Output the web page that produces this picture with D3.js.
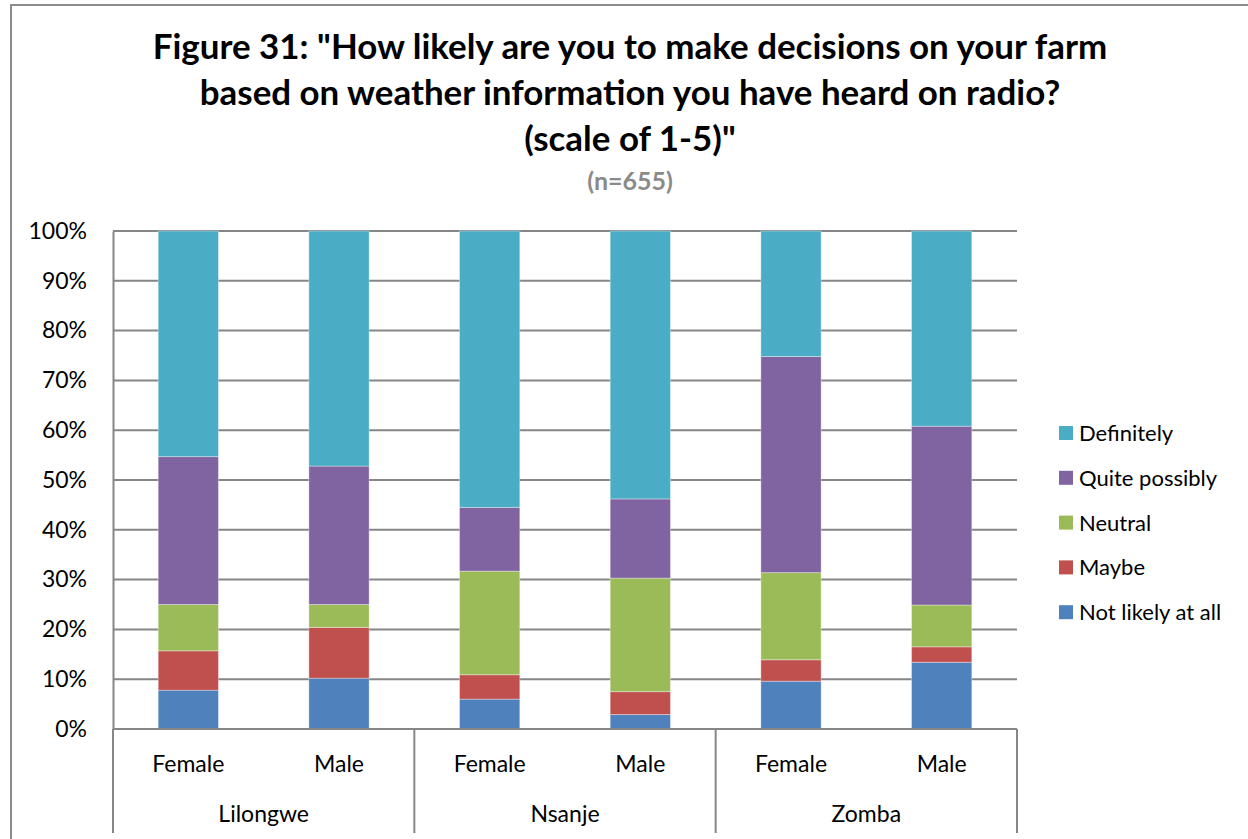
<!DOCTYPE html>
<html>
<head>
<meta charset="utf-8">
<script src="https://cdn.jsdelivr.net/npm/d3@7"></script>
<style>
  html, body { margin: 0; padding: 0; background: #fff; }
  svg { display: block; }
  text { font-family: Lato, "Open Sans", sans-serif; }
</style>
</head>
<body>
<svg id="chart" width="1248" height="839"></svg>
<script>
// Survey response shares (%) by district and gender
const districts = ["Lilongwe", "Nsanje", "Zomba"];
const genders = ["Female", "Male"];
const responses = ["Not likely at all", "Maybe", "Neutral", "Quite possibly", "Definitely"];
const colors = ["#4F81BD", "#C0504D", "#9BBB59", "#8064A2", "#4BACC6"];

// One array per response level, in order Lilongwe F/M, Nsanje F/M, Zomba F/M
const notLikely     = [7.8, 10.2, 6.0, 2.9, 9.6, 13.4];
const maybe         = [7.9, 10.2, 4.9, 4.6, 4.3, 3.1];
const neutral       = [9.3, 4.6, 20.8, 22.8, 17.5, 8.4];
const quitePossibly = [29.7, 27.8, 12.8, 15.9, 43.4, 35.9];
const definitely    = [45.3, 47.2, 55.5, 53.8, 25.2, 39.2];

const yTicks = [0, 0.1, 0.2, 0.3, 0.4, 0.5, 0.6, 0.7, 0.8, 0.9, 1.0];

const titleLines = [
  "Figure 31: \"How likely are you to make decisions on your farm",
  "based on weather information you have heard on radio?",
  "(scale of 1-5)\""
];
const subtitle = "(n=655)";

// Build rows for stacking
const seriesValues = [notLikely, maybe, neutral, quitePossibly, definitely];
const rows = [];
districts.forEach((d, di) => {
  genders.forEach((g, gi) => {
    const i = di * genders.length + gi;
    const row = { district: d, gender: g };
    responses.forEach((r, ri) => { row[r] = seriesValues[ri][i] / 100; });
    rows.push(row);
  });
});

const svg = d3.select("#chart");
const gridColor = "#868686";
const labelSize = 23;

// Outer chart border
svg.append("path")
  .attr("d", "M11,839 L11,5 L1248,5")
  .attr("fill", "none")
  .attr("stroke", "#8c8c8c")
  .attr("stroke-width", 2);

const plot = { left: 113, right: 1017, top: 231, bottom: 729 };

const y = d3.scaleLinear().domain([0, 1]).range([plot.bottom, plot.top]);
const xOuter = d3.scaleBand().domain(districts).range([plot.left, plot.right]).padding(0);
const xInner = d3.scaleBand().domain(genders).range([0, xOuter.bandwidth()])
  .paddingInner(0.6).paddingOuter(0.3);

const color = d3.scaleOrdinal().domain(responses).range(colors);

// Gridlines
svg.append("g")
  .selectAll("line")
  .data(yTicks)
  .join("line")
  .attr("x1", plot.left)
  .attr("x2", plot.right)
  .attr("y1", d => y(d))
  .attr("y2", d => y(d))
  .attr("stroke", gridColor)
  .attr("stroke-width", 2);

// Y axis
const yAxis = svg.append("g")
  .attr("transform", `translate(${plot.left},0)`)
  .call(d3.axisLeft(y).tickValues(yTicks).tickFormat(d3.format(".0%")).tickSize(0).tickPadding(26));
yAxis.select(".domain").attr("stroke", gridColor).attr("stroke-width", 2);
yAxis.selectAll("text")
  .attr("font-size", labelSize)
  .attr("fill", "#000")
  .attr("font-family", "Lato, sans-serif");

// Stacked bars
const stack = d3.stack().keys(responses);
const stacked = stack(rows);

svg.append("g")
  .selectAll("g")
  .data(stacked)
  .join("g")
  .attr("fill", d => color(d.key))
  .selectAll("rect")
  .data(d => d)
  .join("rect")
  .attr("x", d => xOuter(d.data.district) + xInner(d.data.gender))
  .attr("width", xInner.bandwidth())
  .attr("y", d => y(d[1]))
  .attr("height", d => y(d[0]) - y(d[1]))
  .attr("stroke", "rgba(255,255,255,0.35)")
  .attr("stroke-width", 1);

// Baseline axis
svg.append("line")
  .attr("x1", plot.left).attr("x2", plot.right)
  .attr("y1", y(0)).attr("y2", y(0))
  .attr("stroke", gridColor).attr("stroke-width", 2);

// Group separators below the axis
const sepX = districts.map(d => xOuter(d)).concat([xOuter(districts[districts.length - 1]) + xOuter.bandwidth()]);
svg.append("g")
  .selectAll("line")
  .data(sepX)
  .join("line")
  .attr("x1", d => d).attr("x2", d => d)
  .attr("y1", y(0)).attr("y2", 833)
  .attr("stroke", gridColor).attr("stroke-width", 2);

// Gender labels
svg.append("g")
  .selectAll("text")
  .data(rows)
  .join("text")
  .attr("x", d => xOuter(d.district) + xInner(d.gender) + xInner.bandwidth() / 2)
  .attr("y", 772)
  .attr("text-anchor", "middle")
  .attr("font-size", labelSize)
  .text(d => d.gender);

// District labels
svg.append("g")
  .selectAll("text")
  .data(districts)
  .join("text")
  .attr("x", d => xOuter(d) + xOuter.bandwidth() / 2)
  .attr("y", 822)
  .attr("text-anchor", "middle")
  .attr("font-size", labelSize)
  .text(d => d);

// Title, sized so the first line spans its intended width
const titleG = svg.append("g");
const titleX = 630;
const baselines = [59, 105, 151];
const probe = titleG.append("text")
  .attr("font-weight", "bold").attr("font-size", 30).text(titleLines[0]);
const w30 = probe.node().getComputedTextLength();
probe.remove();
const titleSize = 30 * 955 / w30;
titleG.selectAll("text")
  .data(titleLines)
  .join("text")
  .attr("x", titleX)
  .attr("y", (d, i) => baselines[i])
  .attr("text-anchor", "middle")
  .attr("font-weight", "bold")
  .attr("font-size", titleSize)
  .text(d => d);

svg.append("text")
  .attr("x", titleX)
  .attr("y", 190)
  .attr("text-anchor", "middle")
  .attr("font-weight", "bold")
  .attr("font-size", 25)
  .attr("fill", "#8a8a8a")
  .text(subtitle);

// Legend (top to bottom: Definitely ... Not likely at all)
const legendItems = responses.slice().reverse();
const legend = svg.append("g")
  .selectAll("g")
  .data(legendItems)
  .join("g")
  .attr("transform", (d, i) => `translate(1059, ${433 + i * 44.8})`);
legend.append("rect")
  .attr("x", 0).attr("y", -7)
  .attr("width", 14).attr("height", 14)
  .attr("fill", d => color(d));
legend.append("text")
  .attr("x", 20).attr("y", 8)
  .attr("font-size", 22)
  .text(d => d);
</script>
</body>
</html>
